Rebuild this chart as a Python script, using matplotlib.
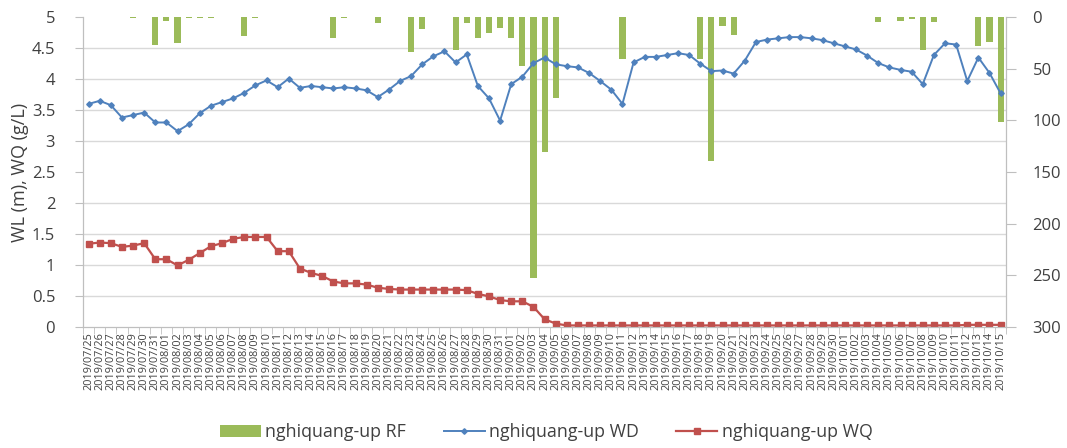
import numpy as np
import pandas as pd
import matplotlib
matplotlib.use("Agg")
import matplotlib.pyplot as plt
from matplotlib.lines import Line2D
from matplotlib.patches import Patch

dates = pd.date_range("2019-07-25", "2019-10-15", freq="D").strftime("%Y/%m/%d").tolist()

wd = [3.60, 3.65, 3.58, 3.38, 3.42, 3.46, 3.30, 3.30, 3.16, 3.27,
      3.45, 3.57, 3.63, 3.69, 3.78, 3.90, 3.98, 3.87, 4.01, 3.86,
      3.89, 3.87, 3.85, 3.87, 3.85, 3.82, 3.71, 3.83, 3.97, 4.05,
      4.24, 4.37, 4.45, 4.27, 4.40, 3.89, 3.69, 3.33, 3.92, 4.04,
      4.26, 4.35, 4.24, 4.21, 4.19, 4.10, 3.97, 3.83, 3.60, 4.27,
      4.36, 4.36, 4.39, 4.42, 4.39, 4.25, 4.13, 4.14, 4.09, 4.30,
      4.60, 4.64, 4.66, 4.68, 4.68, 4.66, 4.63, 4.58, 4.53, 4.48,
      4.38, 4.26, 4.19, 4.15, 4.12, 3.92, 4.39, 4.58, 4.56, 3.97,
      4.35, 4.10, 3.77]

wq = [1.34, 1.36, 1.35, 1.29, 1.31, 1.35, 1.09, 1.09, 0.99, 1.08,
      1.19, 1.30, 1.35, 1.42, 1.45, 1.45, 1.45, 1.22, 1.22, 0.94,
      0.87, 0.82, 0.73, 0.70, 0.70, 0.68, 0.63, 0.61, 0.60, 0.60,
      0.60, 0.60, 0.60, 0.60, 0.59, 0.53, 0.49, 0.43, 0.41, 0.41,
      0.32, 0.12, 0.05, 0.02, 0.02, 0.02, 0.02, 0.02, 0.02, 0.02,
      0.02, 0.02, 0.02, 0.02, 0.02, 0.02, 0.02, 0.02, 0.02, 0.02,
      0.02, 0.02, 0.02, 0.02, 0.02, 0.02, 0.02, 0.02, 0.02, 0.02,
      0.02, 0.02, 0.02, 0.02, 0.02, 0.02, 0.02, 0.02, 0.02, 0.03,
      0.03, 0.03, 0.03]

rf = [0, 0, 0, 0, 1, 0, 27, 4, 25, 1,
      1, 1, 0, 0, 18, 0.5, 0, 0, 0, 0,
      0, 0, 20, 0.5, 0, 0, 6, 0, 0, 34,
      11, 0, 0, 32, 6, 20, 15, 10, 20, 47,
      253, 131, 78, 0, 0, 0, 0, 0, 40, 0,
      0, 0, 0, 0, 0, 40, 139, 8, 17, 0,
      0, 0, 0, 0, 0, 0, 0, 0, 0, 0,
      0, 5, 0, 4, 1.5, 32, 5, 0, 0, 0,
      28, 24, 102]

green = "#9bbb59"
blue = "#4f81bd"
red = "#c0504d"
txt = "#404040"
gray = "#bfbfbf"

plt.rcParams["font.family"] = ["Open Sans", "DejaVu Sans"]

fig = plt.figure(figsize=(10.67, 4.48), dpi=100)
ax = fig.add_axes([0.0778, 0.2708, 0.8652, 0.6906])
ax2 = ax.twinx()
ax.set_zorder(ax2.get_zorder() + 1)
ax.patch.set_visible(False)

x = np.arange(len(dates))

# rainfall, hanging from the top
ax2.bar(x, rf, width=0.55, color=green, zorder=2)
ax2.set_ylim(300, 0)
ax2.set_yticks(np.arange(0, 301, 50))
ax2.set_yticks(np.arange(0, 301, 30), minor=True)
ax2.grid(which="minor", axis="y", color="#d9d9d9", linewidth=1.0, zorder=0)
ax2.tick_params(axis="y", which="minor", length=0)
ax2.tick_params(axis="y", which="major", labelsize=12, colors=txt, length=7, color=gray, pad=12)

ax.plot(x, wd, color=blue, marker="D", markersize=2.8, linewidth=1.4)
ax.plot(x, wq, color=red, marker="s", markersize=4, linewidth=1.6)
ax.set_ylim(0, 5)
ax.set_xlim(-0.5, len(dates) - 0.5)
ax.set_yticks(np.arange(0, 5.01, 0.5))
ax.set_yticklabels(["0", "0.5", "1", "1.5", "2", "2.5", "3", "3.5", "4", "4.5", "5"])
ax.tick_params(axis="y", labelsize=12, colors=txt, length=6, color=gray, pad=14)
ax.set_ylabel("WL (m), WQ (g/L)", fontsize=13, color=txt, labelpad=2)

ax.set_xticks(x)
ax.set_xticklabels(dates, rotation=90, fontsize=7.8, color=txt)
ax.set_xticks(np.arange(-0.5, len(dates), 1), minor=True)
ax.tick_params(axis="x", which="major", length=0, pad=4)
ax.tick_params(axis="x", which="minor", length=5, color=gray)

for a in (ax, ax2):
    a.spines["top"].set_visible(False)
    for s in ("left", "right", "bottom"):
        a.spines[s].set_color(gray)

handles = [
    Patch(facecolor=green, label="nghiquang-up RF"),
    Line2D([], [], color=blue, marker="D", markersize=2.8, linewidth=1.4, label="nghiquang-up WD"),
    Line2D([], [], color=red, marker="s", markersize=4, linewidth=1.6, label="nghiquang-up WQ"),
]
leg = fig.legend(handles=handles, loc="lower center", bbox_to_anchor=(0.512, -0.02), ncol=3,
                 frameon=False, fontsize=12.8, handlelength=2.3, columnspacing=2.1, handletextpad=0.25)
for t in leg.get_texts():
    t.set_color(txt)

fig.savefig("out.png", dpi=100)
